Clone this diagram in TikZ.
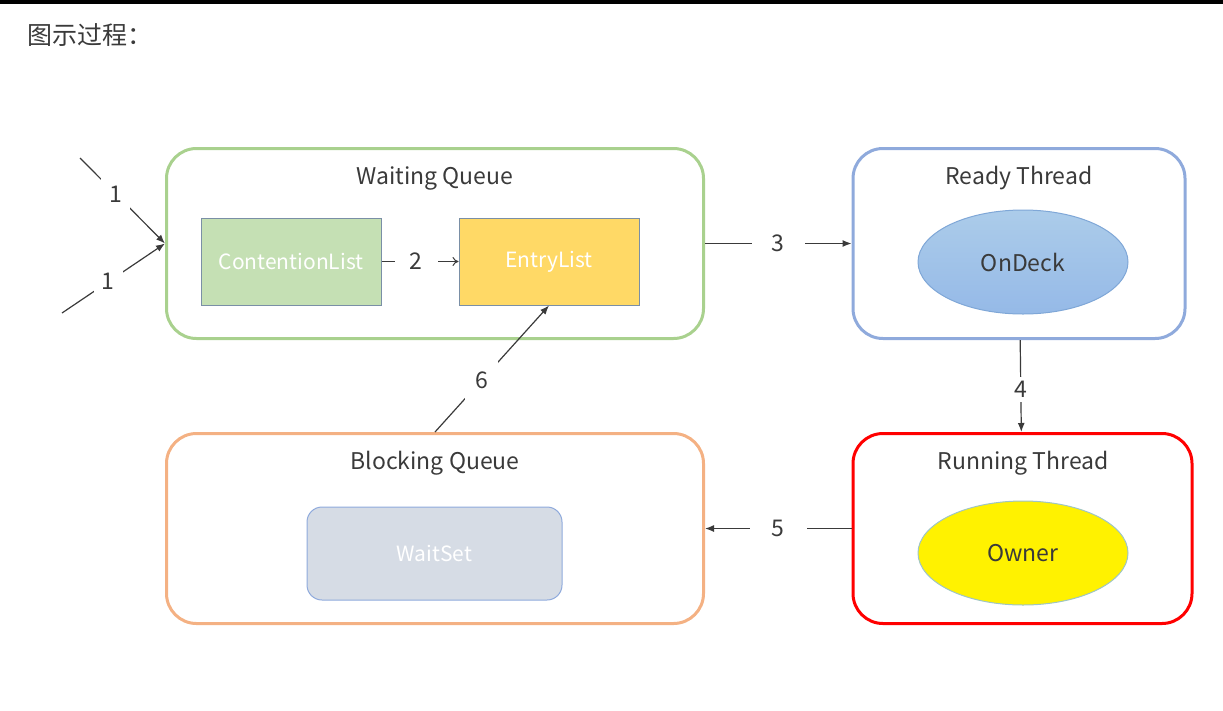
\documentclass[tikz,border=0pt]{standalone}
\usepackage{fontspec}
\setmainfont{Noto Sans CJK SC}
\usetikzlibrary{positioning,shapes.geometric,arrows.meta}

\definecolor{txtgray}{HTML}{3A3A3A}
\definecolor{lineGray}{HTML}{3A3A3A}
\definecolor{wqGreen}{HTML}{A9D18E}
\definecolor{rtBlue}{HTML}{8FAADC}
\definecolor{bqOrange}{HTML}{F4B183}
\definecolor{clFill}{HTML}{C5E0B4}
\definecolor{elFill}{HTML}{FFD966}
\definecolor{boxEdge}{HTML}{7A8FA6}
\definecolor{odFill}{HTML}{9DC3E6}
\definecolor{odEdge}{HTML}{7FA7D7}
\definecolor{owEdge}{HTML}{9FC5C5}
\definecolor{wsFill}{HTML}{D6DCE5}

\tikzset{
  queue/.style={draw, line width=3pt, rounded corners=30pt, minimum width=537pt, minimum height=190pt},
  inlist/.style={draw=boxEdge, line width=1pt, minimum width=180pt, minimum height=87pt, text=white, font=\fontsize{21}{24}\selectfont},
  thread/.style={draw, line width=1pt, ellipse, minimum width=210pt, minimum height=104pt, text=txtgray, font=\fontsize{23}{26}\selectfont},
  qtitle/.style={text=txtgray, font=\fontsize{23}{26}\selectfont},
  flow/.style={draw=lineGray, line width=1.2pt, -{Latex[length=9pt,width=7pt]}},
  num/.style={fill=white, text=txtgray, inner xsep=15pt, inner ysep=8pt, font=\fontsize{23}{26}\selectfont}
}

\begin{document}
\begin{tikzpicture}[x=1pt,y=-1pt]
  \useasboundingbox (0,0) rectangle (1223,710);
  \fill[black] (0,0) rectangle (1223,4);
  \node[anchor=west, text=txtgray, font=\fontsize{25}{28}\selectfont] (title) at (24,35) {图示过程：};

  % queues and threads
  \node[queue, draw=wqGreen] (wq) at (435,243.5) {};
  \node[queue, draw=bqOrange] (bq) at (435,528.5) {};
  \node[queue, draw=rtBlue, minimum width=332pt] (rt) at (1019,243.5) {};
  \node[queue, draw=red, minimum width=339pt] (rn) at (1022.5,528.5) {};

  \node[qtitle] (wqt) at (435,178) {Waiting Queue};
  \node[qtitle] (bqt) at (435,463) {Blocking Queue};
  \node[qtitle] (rtt) at (1019,178) {Ready Thread};
  \node[qtitle] (rnt) at (1023,463) {Running Thread};

  \node[inlist, fill=clFill] (cl) at (291,261.5) {ContentionList};
  \node[inlist, fill=elFill] (el) at (549,261.5) {EntryList};
  \node[inlist, fill=wsFill, draw=rtBlue, rounded corners=15pt, minimum width=255pt, minimum height=93pt] (ws) at (434.5,553.5) {WaitSet};

  \node[thread, draw=odEdge, top color=odFill!85!white, bottom color=odFill!95!blue] (od) at (1023,262) {OnDeck};
  \node[thread, draw=owEdge, fill=yellow] (ow) at (1023,553) {Owner};

  % connectors
  \coordinate (in1) at (80,158);
  \coordinate (in2) at (62,313);
  \draw[flow] (in1) -- node[num, inner xsep=8pt, pos=0.42] {1} (wq.west);
  \draw[flow] (in2) -- node[num, inner xsep=8pt, pos=0.45] {1} (wq.west);
  \draw[draw=lineGray, line width=1pt, -{To[length=6pt,width=9pt]}] (cl) -- node[num, pos=0.45] {2} (el);
  \draw[flow] (wq) -- node[num, inner xsep=20pt] {3} (rt);
  \draw[flow] (rt) -- node[num, inner ysep=4pt, pos=0.54] {4} (rn);
  \draw[flow] (rn) -- node[num, inner xsep=22pt] {5} (bq);
  \draw[flow] (bq.north) -- node[num, inner xsep=10pt, inner ysep=12pt, pos=0.41] {6} (el.south);
\end{tikzpicture}
\end{document}
